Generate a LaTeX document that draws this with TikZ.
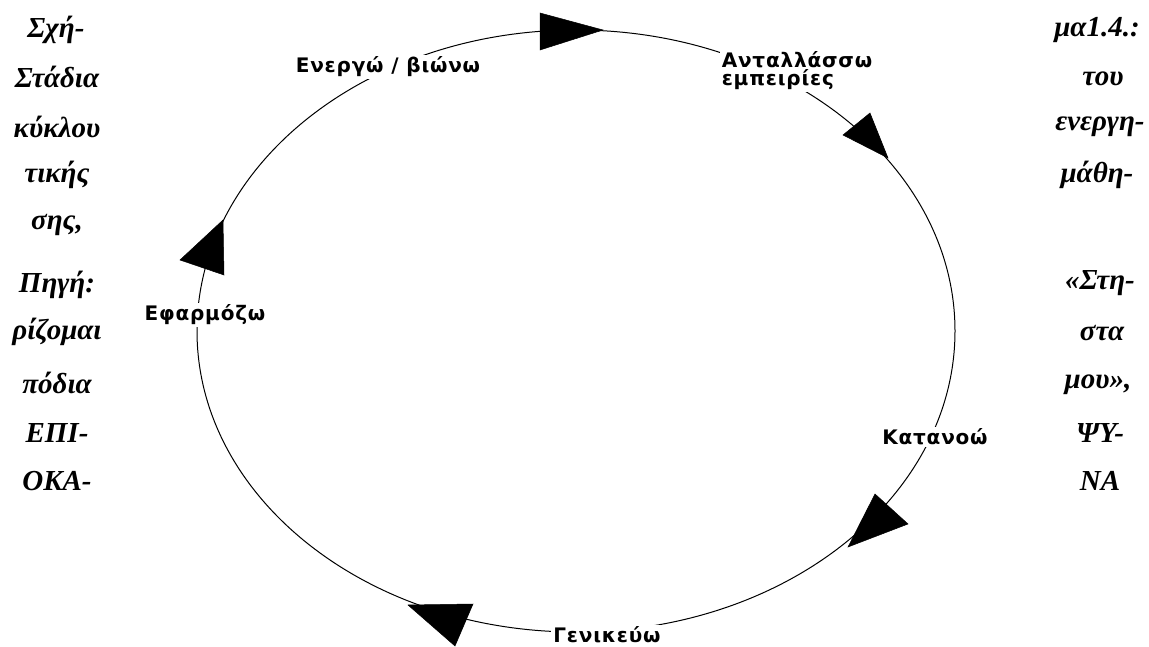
\documentclass[tikz,border=0pt]{standalone}
\usepackage{fontspec}
\setmainfont{Liberation Serif}
\newfontfamily\lblfont[LetterSpace=4]{DejaVu Sans}
\begin{document}
\begin{tikzpicture}[x=1pt,y=-1pt,
  lbl/.style={fill=white,inner sep=2pt,font=\lblfont\bfseries\fontsize{20}{22}\selectfont,align=left},
  side/.style={font=\bfseries\itshape\fontsize{29}{32}\selectfont,inner sep=0pt,anchor=center},
  tri/.style={fill=black,draw=black,line width=0.5pt}]
\useasboundingbox (0,0) rectangle (1149,647);
\fill[white] (0,0) rectangle (1149,647);
% cycle
\draw[line width=1pt] (576,331) ellipse [x radius=379pt, y radius=301pt];
% arrowheads
\filldraw[tri] (540,13) -- (540,50) -- (603,30) -- cycle;
\filldraw[tri] (870,113) -- (843,135) -- (888,158) -- cycle;
\filldraw[tri] (875,494) -- (908,524) -- (848,547) -- cycle;
\filldraw[tri] (408,605) -- (473,604) -- (455,646) -- cycle;
\filldraw[tri] (223,220) -- (180,260) -- (224,275) -- cycle;
% stage labels
\node[lbl] (act) at (388,67) {Ενεργώ / βιώνω};
\node[lbl] (exch) at (797,71) {Ανταλλάσσω\\[-4pt]εμπειρίες};
\node[lbl] (und) at (935,437) {Κατανοώ};
\node[lbl] (gen) at (607,635) {Γενικεύω};
\node[lbl] (app) at (205,315) {Εφαρμόζω};
% side caption text
\node[side] (l1) at (56,30) {Σχή-};
\node[side] (l2) at (57,77) {Στάδια};
\node[side] (l3) at (57,127) {κύκλου};
\node[side] (l4) at (57,175) {τικής};
\node[side] (l5) at (57,225) {σης,};
\node[side] (l6) at (57,285) {Πηγή:};
\node[side] (l7) at (57,332) {ρίζομαι};
\node[side] (l8) at (57,383) {πόδια};
\node[side] (l9) at (57,433) {ΕΠΙ-};
\node[side] (l10) at (57,481) {ΟΚΑ-};
\node[side] (r1) at (1097,30) {μα1.4.:};
\node[side] (r2) at (1103,79) {του};
\node[side] (r3) at (1100,127) {ενεργη-};
\node[side] (r4) at (1097,175) {μάθη-};
\node[side] (r5) at (1100,283) {«Στη-};
\node[side] (r6) at (1102,333) {στα};
\node[side] (r7) at (1098,385) {μου»,};
\node[side] (r8) at (1100,433) {ΨΥ-};
\node[side] (r9) at (1100,481) {ΝΑ};
\end{tikzpicture}
\end{document}
